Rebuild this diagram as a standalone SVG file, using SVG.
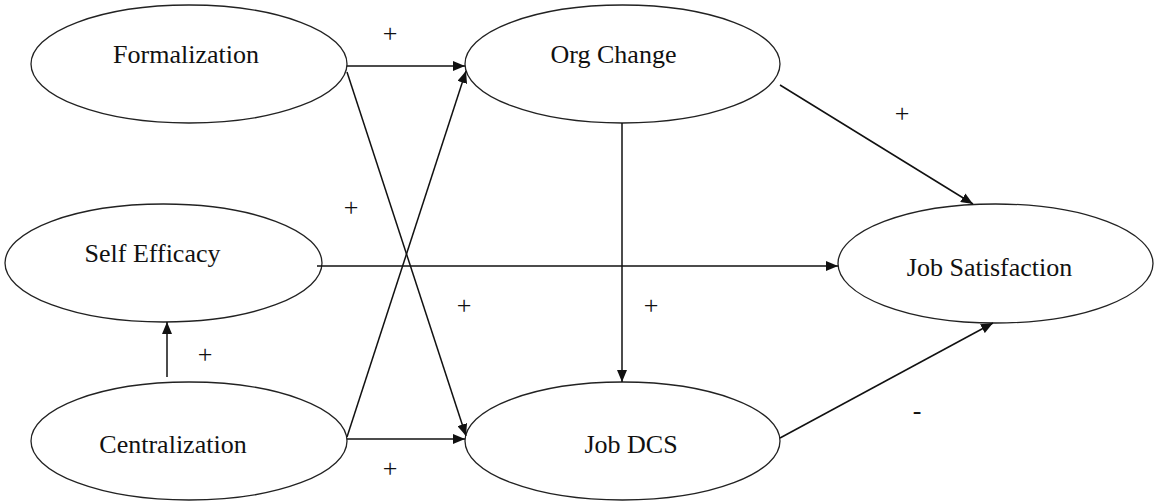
<svg xmlns="http://www.w3.org/2000/svg" width="1155" height="504" viewBox="0 0 1155 504">
<style>
.node ellipse{fill:#fff;stroke:#222;stroke-width:1.3}
text{font-family:"Liberation Serif","Times New Roman",serif;font-size:26px;fill:#111;text-anchor:middle}
.conn line{stroke:#111;stroke-width:1.5;fill:none}
.arr{marker-end:url(#ah)}
</style>
<defs>
<marker id="ah" markerUnits="userSpaceOnUse" markerWidth="12" markerHeight="10" refX="12" refY="5" orient="auto">
<path d="M0,0 L12,5 L0,10 z" fill="#111"/>
</marker>
</defs>
<rect width="1155" height="504" fill="#fff"/>
<g id="formalization" class="node"><ellipse cx="189" cy="64" rx="158" ry="59"/><text x="186" y="63">Formalization</text></g>
<g id="org-change" class="node"><ellipse cx="622.5" cy="64" rx="157.5" ry="59"/><text x="613.5" y="63">Org Change</text></g>
<g id="self-efficacy" class="node"><ellipse cx="163.5" cy="263" rx="158.5" ry="59"/><text x="152.5" y="262">Self Efficacy</text></g>
<g id="centralization" class="node"><ellipse cx="189" cy="441" rx="158" ry="59"/><text x="173" y="453">Centralization</text></g>
<g id="job-dcs" class="node"><ellipse cx="622.5" cy="441" rx="157.5" ry="59"/><text x="631" y="453">Job DCS</text></g>
<g id="job-satisfaction" class="node"><ellipse cx="995.5" cy="263.5" rx="157.5" ry="59.5"/><text x="989.5" y="276">Job Satisfaction</text></g>
<g id="connectors" class="conn">
<line class="arr" x1="347" y1="66" x2="465" y2="66"/>
<line class="arr" x1="347" y1="72" x2="466" y2="436"/>
<line class="arr" x1="347" y1="437" x2="466" y2="71"/>
<line class="arr" x1="347" y1="439" x2="465" y2="439"/>
<line class="arr" x1="167" y1="377" x2="167" y2="322"/>
<line class="arr" x1="317" y1="266" x2="838" y2="266"/>
<line class="arr" x1="622" y1="123" x2="622" y2="382"/>
<line class="arr" x1="780" y1="85" x2="973" y2="204"/>
<line class="arr" x1="780" y1="438" x2="993" y2="323"/>
</g>
<g id="labels">
<text x="390" y="42">+</text>
<text x="351" y="216">+</text>
<text x="464" y="314">+</text>
<text x="205" y="363">+</text>
<text x="390" y="477">+</text>
<text x="651" y="314">+</text>
<text x="902" y="122">+</text>
<text x="917" y="419">-</text>
</g>
</svg>
